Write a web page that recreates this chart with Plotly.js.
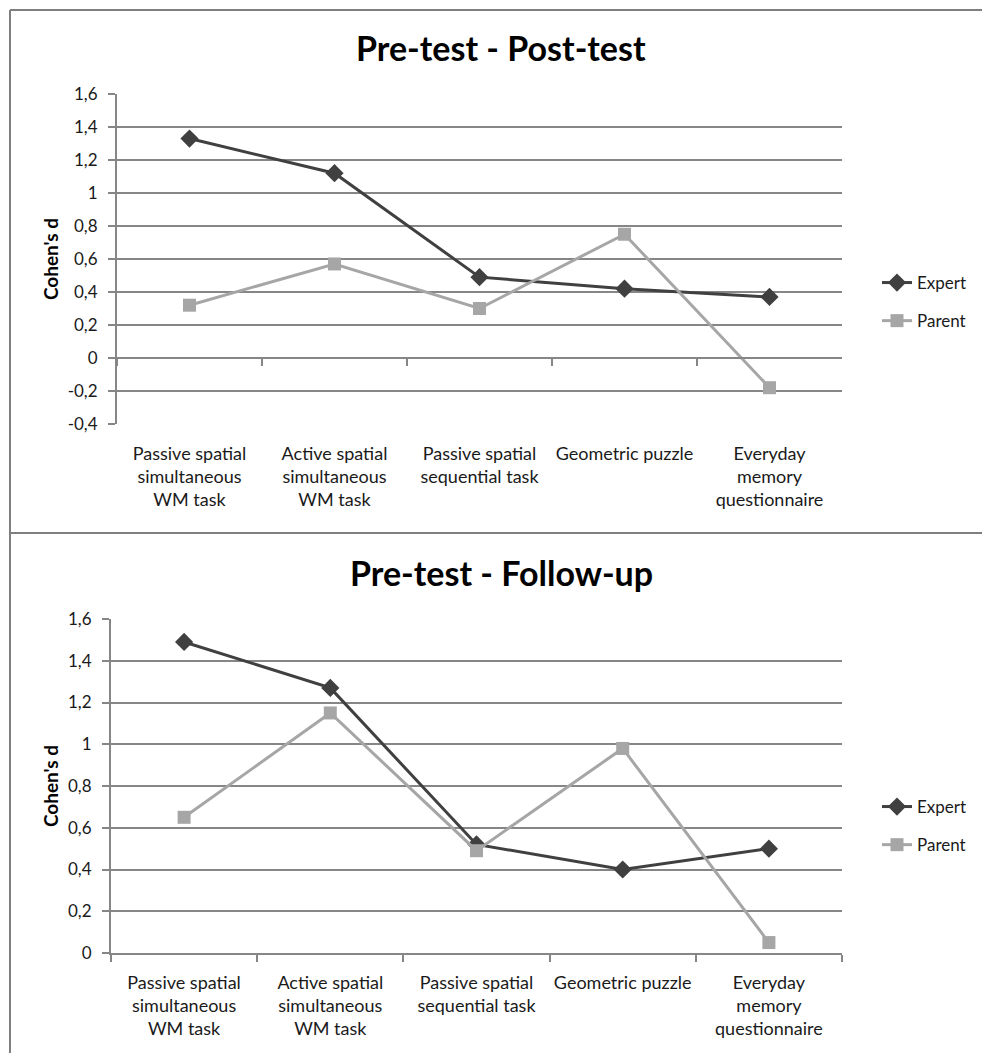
<!DOCTYPE html>
<html>
<head>
<meta charset="utf-8">
<script src="https://cdn.plot.ly/plotly-3.0.1.min.js"></script>
<style>
  html, body { margin: 0; padding: 0; background: #fff; }
  #chart { width: 982px; height: 1053px; }
</style>
</head>
<body>
<div id="chart"></div>
<script>
// ---- data ----
const categories = [
  "Passive spatial<br>simultaneous<br>WM task",
  "Active spatial<br>simultaneous<br>WM task",
  "Passive spatial<br>sequential task",
  "Geometric puzzle",
  "Everyday<br>memory<br>questionnaire"
];
const seriesNames = ["Expert", "Parent"];
const postExpert = [1.33, 1.12, 0.49, 0.42, 0.37];
const postParent = [0.32, 0.57, 0.30, 0.75, -0.18];
const followExpert = [1.49, 1.27, 0.52, 0.40, 0.50];
const followParent = [0.65, 1.15, 0.49, 0.98, 0.05];
const titles = ["Pre-test - Post-test", "Pre-test - Follow-up"];
const yTitle = "Cohen's d";
const yTickVals1 = [-0.4, -0.2, 0, 0.2, 0.4, 0.6, 0.8, 1, 1.2, 1.4, 1.6];
const yTickText1 = ["-0,4", "-0,2", "0", "0,2", "0,4", "0,6", "0,8", "1", "1,2", "1,4", "1,6"];
const yTickVals2 = [0, 0.2, 0.4, 0.6, 0.8, 1, 1.2, 1.4, 1.6];
const yTickText2 = ["0", "0,2", "0,4", "0,6", "0,8", "1", "1,2", "1,4", "1,6"];

// ---- styling / layout ----
const W = 982, H = 1053;
const FONT = "Lato, 'Open Sans', sans-serif";
const GRID = "#868686";
const TXT = "#1a1a1a";
const C_EXPERT = "#404040";
const C_PARENT = "#a6a6a6";

const px = v => v / W;
const py = v => 1 - v / H;

const xDom1 = [px(117), px(842)];
const yDom1 = [py(424), py(94)];
const xDom2 = [px(111), px(842)];
const yDom2 = [py(953), py(619)];
const yRange1 = [-0.4, 1.6];
const yRange2 = [0, 1.6];
const zeroPos1 = yDom1[0] + (0 - yRange1[0]) / (yRange1[1] - yRange1[0]) * (yDom1[1] - yDom1[0]);

function lineTrace(x, y, name, color, symbol, xa, ya, legend, group) {
  return {
    type: "scatter", mode: "lines+markers",
    x: x, y: y, name: name,
    xaxis: xa, yaxis: ya, legend: legend, legendgroup: group,
    line: { color: color, width: 3 },
    marker: { color: color, symbol: symbol, size: symbol === "diamond" ? 14 : 13 },
    cliponaxis: false
  };
}

const data = [
  lineTrace(categories, postExpert, seriesNames[0], C_EXPERT, "diamond", "x", "y", "legend", "a"),
  lineTrace(categories, postParent, seriesNames[1], C_PARENT, "square", "x", "y", "legend", "b"),
  lineTrace(categories, followExpert, seriesNames[0], C_EXPERT, "diamond", "x2", "y2", "legend2", "c"),
  lineTrace(categories, followParent, seriesNames[1], C_PARENT, "square", "x2", "y2", "legend2", "d")
];

const xCommon = {
  type: "category",
  range: [-0.5, categories.length - 0.5],
  showgrid: false,
  zeroline: false,
  ticks: "outside",
  tickson: "boundaries",
  ticklen: 7,
  tickwidth: 2,
  tickcolor: GRID,
  tickangle: 0,
  tickfont: { family: FONT, size: 18, color: TXT },
  fixedrange: true
};

function yAxis(range, vals, text, dom, anchor) {
  return {
    domain: dom, anchor: anchor, range: range,
    tickmode: "array", tickvals: vals, ticktext: text,
    showgrid: true, gridcolor: GRID, gridwidth: 2,
    zeroline: true, zerolinecolor: GRID, zerolinewidth: 2,
    showline: true, linecolor: GRID, linewidth: 2,
    ticks: "outside", ticklen: 7, tickwidth: 2, tickcolor: GRID,
    ticklabelstandoff: 7,
    tickfont: { family: FONT, size: 17, color: TXT },
    title: { text: yTitle, font: { family: FONT, size: 19, color: "#000", weight: "bold" }, standoff: 4 },
    fixedrange: true
  };
}

const legendCommon = {
  xanchor: "left", yanchor: "top",
  font: { family: FONT, size: 17, color: TXT },
  traceorder: "grouped", tracegroupgap: 13,
  bgcolor: "rgba(0,0,0,0)", itemclick: false, itemdoubleclick: false
};

const layout = {
  width: W, height: H,
  margin: { l: 0, r: 0, t: 0, b: 0 },
  paper_bgcolor: "#fff", plot_bgcolor: "rgba(0,0,0,0)",
  font: { family: FONT },
  showlegend: true,
  xaxis: Object.assign({}, xCommon, {
    domain: xDom1, anchor: "free", position: zeroPos1,
    showline: true, linecolor: GRID, linewidth: 2,
    ticklabelstandoff: 79
  }),
  yaxis: yAxis(yRange1, yTickVals1, yTickText1, yDom1, "x"),
  xaxis2: Object.assign({}, xCommon, {
    domain: xDom2, anchor: "y2",
    showline: true, linecolor: GRID, linewidth: 2,
    ticklabelstandoff: 12
  }),
  yaxis2: yAxis(yRange2, yTickVals2, yTickText2, yDom2, "x2"),
  legend: Object.assign({}, legendCommon, { x: px(877), y: py(265) }),
  legend2: Object.assign({}, legendCommon, { x: px(877), y: py(789) }),
  annotations: [
    { text: titles[0], xref: "paper", yref: "paper", x: px(501), y: py(47), xanchor: "center", yanchor: "middle",
      showarrow: false, font: { family: FONT, size: 34, color: "#000", weight: "bold" } },
    { text: titles[1], xref: "paper", yref: "paper", x: px(501), y: py(572), xanchor: "center", yanchor: "middle",
      showarrow: false, font: { family: FONT, size: 34, color: "#000", weight: "bold" } }
  ],
  shapes: [
    { type: "line", xref: "paper", yref: "paper", x0: px(10), x1: 1, y0: py(10), y1: py(10), line: { color: "#7f7f7f", width: 2 } },
    { type: "line", xref: "paper", yref: "paper", x0: px(10), x1: 1, y0: py(533), y1: py(533), line: { color: "#7f7f7f", width: 2 } },
    { type: "line", xref: "paper", yref: "paper", x0: px(10), x1: px(10), y0: py(10), y1: 0, line: { color: "#7f7f7f", width: 2 } }
  ]
};

Plotly.newPlot("chart", data, layout, { displayModeBar: false, staticPlot: true });
</script>
</body>
</html>
